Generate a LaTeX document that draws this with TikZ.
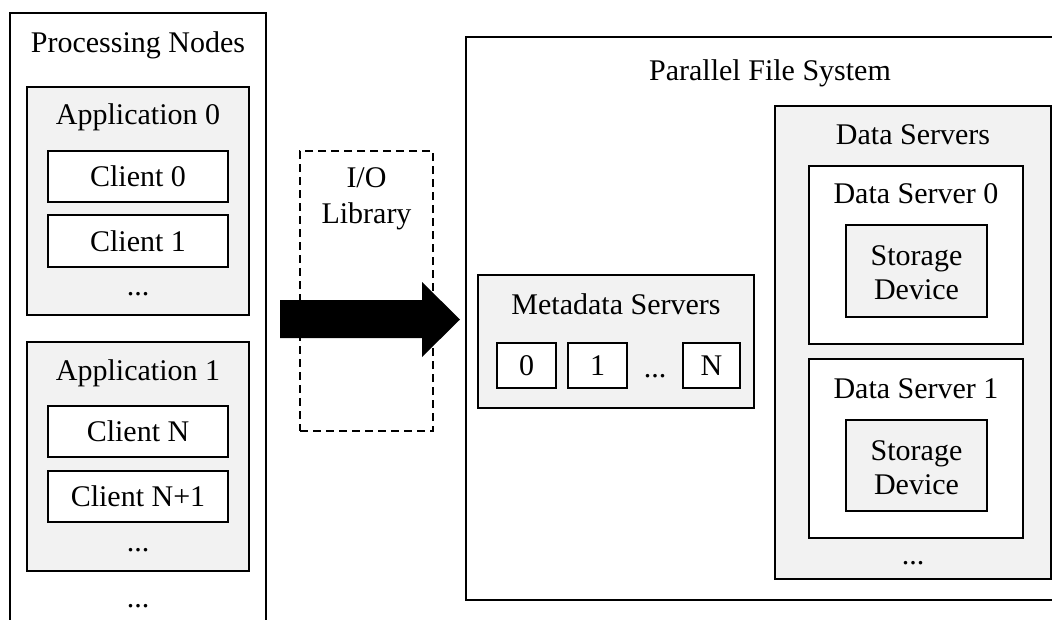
\documentclass[tikz,border=0pt]{standalone}
\usepackage{fontspec}
\setmainfont{Liberation Serif}
\usetikzlibrary{fit}
\definecolor{gfill}{HTML}{F2F2F2}
\begin{document}
\begin{tikzpicture}[x=1pt,y=-1pt,
  box/.style={draw=black, line width=2pt, inner sep=0pt, fill=white},
  gbox/.style={box, fill=gfill},
  dbox/.style={draw=black, line width=2pt, inner sep=0pt, dash pattern=on 8pt off 5pt},
  lbl/.style={anchor=base, inner sep=0pt, font=\fontsize{30}{36}\selectfont},
]
\useasboundingbox (0,0) rectangle (1052,619);
\begin{scope}
\clip (0,0) rectangle (1052,619);
% Processing nodes
\node[box, fit={(10,13) (266,660)}] (pn) {};
\node[lbl] (pnt) at (138,52) {Processing Nodes};
\node[gbox, fit={(27,87) (249,315)}] (app0) {};
\node[lbl] (app0t) at (138,124) {Application 0};
\node[box, fit={(48,151) (228,202)}] (c0) {};
\node[lbl] (c0t) at (138,186.5) {Client 0};
\node[box, fit={(48,215) (228,267)}] (c1) {};
\node[lbl] (c1t) at (138,251) {Client 1};
\node[lbl] (app0d) at (138,295) {...};
\node[gbox, fit={(27,342) (249,571)}] (app1) {};
\node[lbl] (app1t) at (138,380) {Application 1};
\node[box, fit={(48,406) (228,457)}] (cn) {};
\node[lbl] (cnt) at (138,441.5) {Client N};
\node[box, fit={(48,471) (228,522)}] (cn1) {};
\node[lbl] (cn1t) at (138,506.5) {Client N+1};
\node[lbl] (app1d) at (138,551) {...};
\node[lbl] (pnd) at (138,607) {...};
% I/O library
\node[dbox, fit={(300,151) (433,431)}] (io) {};
\node[lbl] (iot1) at (366.5,187) {I/O};
\node[lbl] (iot2) at (366.5,223) {Library};
% arrow
\fill[black] (280,300) -- (422,300) -- (422,282) -- (460,319.5) -- (422,357) -- (422,338) -- (280,338) -- cycle;
% Parallel file system
\node[box, fit={(466,37) (1074,600)}] (pfs) {};
\node[lbl] (pfst) at (770,80) {Parallel File System};
\node[gbox, fit={(478,275) (754,408)}] (mds) {};
\node[lbl] (mdst) at (616,314) {Metadata Servers};
\node[box, fit={(497,343) (556,388)}] (m0) {};
\node[lbl] (m0t) at (526.5,375.5) {0};
\node[box, fit={(568,343) (627,388)}] (m1) {};
\node[lbl] (m1t) at (597.5,375.5) {1};
\node[lbl] (mdd) at (655,377) {...};
\node[box, fit={(683,343) (740,388)}] (mn) {};
\node[lbl] (mnt) at (711.5,375.5) {N};
\node[gbox, fit={(775,106) (1051,579)}] (ds) {};
\node[lbl] (dst) at (913,144) {Data Servers};
\node[box, fit={(809,166) (1023,344)}] (ds0) {};
\node[lbl] (ds0t) at (916,203) {Data Server 0};
\node[gbox, fit={(846,225) (987,317)}] (sd0) {};
\node[lbl] (sd0a) at (916.5,265) {Storage};
\node[lbl] (sd0b) at (916.5,299) {Device};
\node[box, fit={(809,359) (1023,538)}] (ds1) {};
\node[lbl] (ds1t) at (916,398) {Data Server 1};
\node[gbox, fit={(846,420) (987,511)}] (sd1) {};
\node[lbl] (sd1a) at (916.5,460) {Storage};
\node[lbl] (sd1b) at (916.5,494) {Device};
\node[lbl] (dsd) at (913,564) {...};
\end{scope}
\end{tikzpicture}
\end{document}
